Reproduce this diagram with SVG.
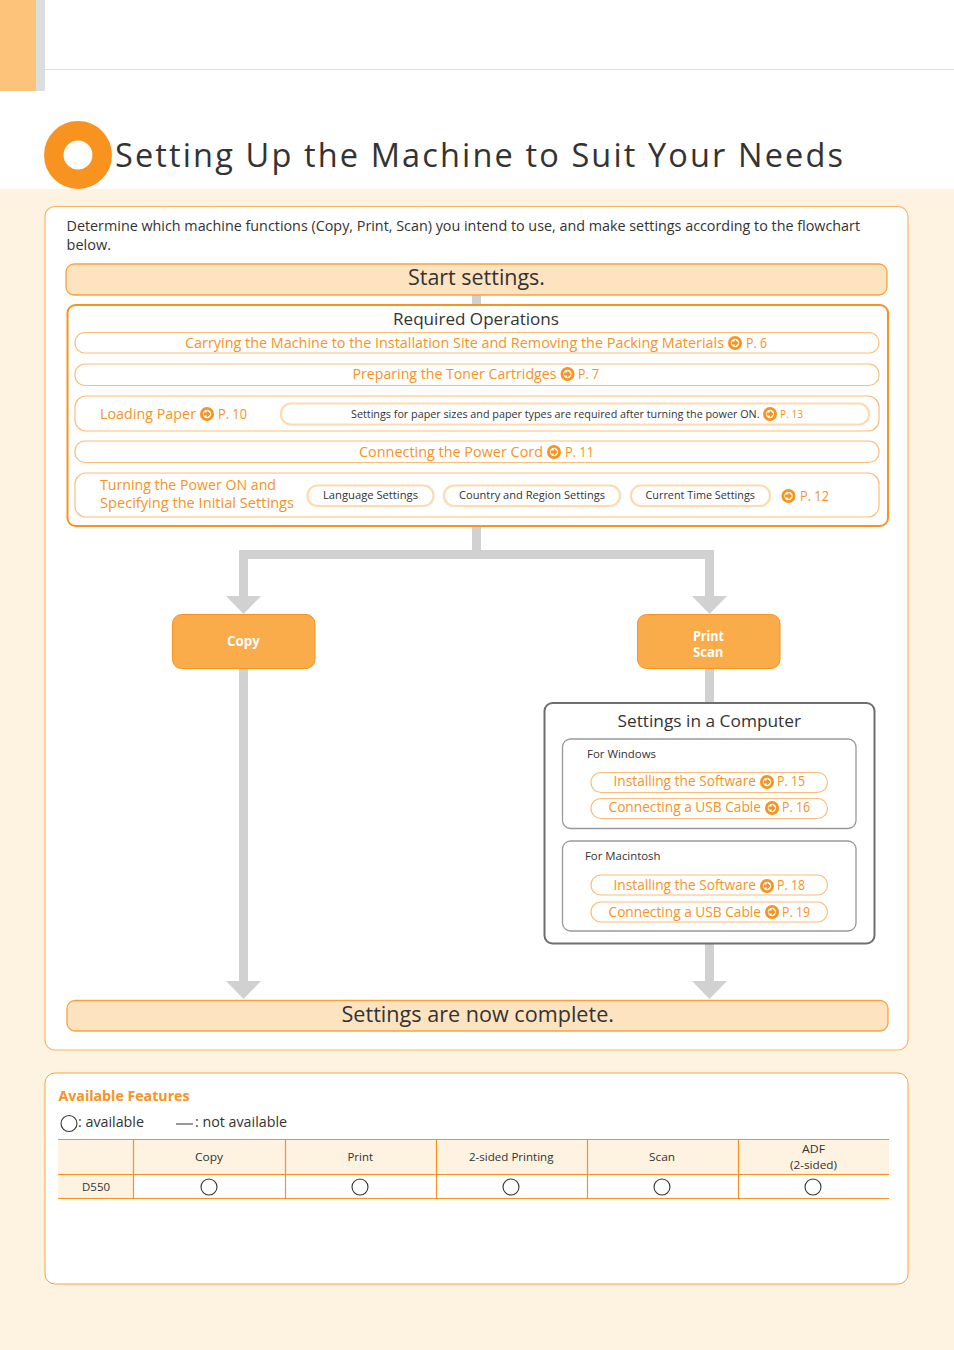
<svg xmlns="http://www.w3.org/2000/svg" width="954" height="1350" viewBox="0 0 954 1350">
<style>
text{font-family:"Open Sans","Noto Sans","Liberation Sans",sans-serif;fill:#333;}
.o{fill:#F7931E;}
.w{fill:#fff;font-weight:700;font-size:14px}
.s11{font-size:11px}
.s12{font-size:11.5px}
.s14{font-size:14px}
.s15{font-size:14.5px}
.s17{font-size:17px}
.s22{font-size:22px}
.bar{fill:#FDE3BF;stroke:#F9A23C;stroke-width:1.3}
.pill{fill:#fff;stroke:#FBBE7A;stroke-width:1.2}
.thick{fill:#fff;stroke:#FDDBAF;stroke-width:2.2}
.act{fill:#FAAB4A;stroke:#F7931E;stroke-width:1}
.tl{stroke:#F7931E;stroke-width:1.2;fill:none}
.ck{fill:none;stroke:#333;stroke-width:1.1}
.gb{fill:#fff;stroke:#999;stroke-width:1.3}
.pn{fill:#fff;stroke:#FBB568;stroke-width:1.2}
.conn{fill:#D1D1D1}
</style>
<defs>
<g id="ic"><circle r="5.6" fill="#fff" stroke="#F7931E" stroke-width="2.8"/><path d="M-3.4-1.4H-.2V-3.8L3.6 0L-.2 3.8V1.4H-3.4Z" fill="#F7931E"/></g>
</defs>
<rect width="954" height="1350" fill="#fff"/>
<g id="header">
<rect width="36" height="91" fill="#FDC37A"/>
<rect x="36" width="9" height="91" fill="#DCDDDD"/>
<rect x="45" y="69" width="909" height="1" fill="#DCDDDD"/>
<rect y="189" width="954" height="1161" fill="#FEF2E0"/>
<circle cx="78" cy="155" r="24.2" fill="#fff" stroke="#F7931E" stroke-width="19.5"/>
<text x="115" y="166.500" font-size="32.500" textLength="728" lengthAdjust="spacing">Setting Up the Machine to Suit Your Needs</text>
</g>
<rect id="panel-flow" class="pn" x="45" y="206.500" width="863" height="843.500" rx="10"/>
<text x="66.500" y="231" class="s15" textLength="793.500" lengthAdjust="spacingAndGlyphs">Determine which machine functions (Copy, Print, Scan) you intend to use, and make settings according to the flowchart</text>
<text x="66.500" y="250" class="s15" textLength="44.500" lengthAdjust="spacingAndGlyphs">below.</text>
<g id="connectors" class="conn">
<rect x="472" y="294" width="9" height="12"/>
<rect x="472" y="526" width="9" height="25"/>
<rect x="239" y="550" width="475" height="9"/>
<rect x="239" y="550" width="9" height="47"/>
<rect x="705" y="550" width="9" height="47"/>
<path d="M226 596H261L243.500 614Z"/>
<path d="M692 596H727L709.500 614Z"/>
<rect x="239" y="668" width="9" height="314"/>
<path d="M226 981H261L243.500 999Z"/>
<rect x="705" y="668" width="9" height="36"/>
<rect x="705" y="943" width="9" height="39"/>
<path d="M692 981H727L709.500 999Z"/>
</g>
<g id="start">
<rect class="bar" x="66" y="264" width="821" height="31" rx="8"/>
<text x="408" y="285" class="s22" textLength="137" lengthAdjust="spacingAndGlyphs">Start settings.</text>
</g>
<g id="required">
<rect x="67.500" y="305" width="820.500" height="221" rx="8" fill="#fff" stroke="#F7931E" stroke-width="2"/>
<text x="393" y="325" class="s17" textLength="166" lengthAdjust="spacingAndGlyphs">Required Operations</text>
</g>
<g id="req-carrying">
<rect class="pill" x="75" y="332.500" width="804" height="20.500" rx="10"/>
<text x="185" y="348" class="o s14" textLength="539" lengthAdjust="spacingAndGlyphs">Carrying the Machine to the Installation Site and Removing the Packing Materials</text>
<use href="#ic" x="735" y="343"/>
<text x="746" y="348" class="o s14" textLength="21" lengthAdjust="spacingAndGlyphs">P. 6</text>
</g>
<g id="req-toner">
<rect class="pill" x="75" y="364" width="804" height="21.500" rx="10"/>
<text x="352.500" y="379" class="o s14" textLength="204" lengthAdjust="spacingAndGlyphs">Preparing the Toner Cartridges</text>
<use href="#ic" x="567.500" y="374"/>
<text x="578" y="379" class="o s14" textLength="21" lengthAdjust="spacingAndGlyphs">P. 7</text>
</g>
<g id="req-paper">
<rect class="pill" x="75" y="396" width="804" height="35" rx="11"/>
<text x="100" y="419" class="o s14" textLength="96" lengthAdjust="spacingAndGlyphs">Loading Paper</text>
<use href="#ic" x="207" y="414"/>
<text x="218" y="419" class="o s14" textLength="29" lengthAdjust="spacingAndGlyphs">P. 10</text>
<rect class="thick" x="281" y="403.500" width="588" height="21" rx="10"/>
<text x="351" y="418" class="s11" textLength="408.500" lengthAdjust="spacingAndGlyphs">Settings for paper sizes and paper types are required after turning the power ON.</text>
<use href="#ic" x="770" y="414"/>
<text x="780" y="418" class="o s12" textLength="23" lengthAdjust="spacingAndGlyphs">P. 13</text>
</g>
<g id="req-power">
<rect class="pill" x="75" y="441" width="804" height="21.500" rx="10"/>
<text x="359" y="457" class="o s14" textLength="184" lengthAdjust="spacingAndGlyphs">Connecting the Power Cord</text>
<use href="#ic" x="554" y="452"/>
<text x="565" y="457" class="o s14" textLength="29" lengthAdjust="spacingAndGlyphs">P. 11</text>
</g>
<g id="req-initial">
<rect class="pill" x="75" y="473" width="804" height="44" rx="11"/>
<text x="100" y="490" class="o s14" textLength="176" lengthAdjust="spacingAndGlyphs">Turning the Power ON and</text>
<text x="100" y="508" class="o s14" textLength="194" lengthAdjust="spacingAndGlyphs">Specifying the Initial Settings</text>
<rect class="thick" x="307.500" y="485.500" width="126" height="20.500" rx="10"/>
<text x="323" y="499" class="s12" textLength="95" lengthAdjust="spacingAndGlyphs">Language Settings</text>
<rect class="thick" x="444" y="485.500" width="176" height="20.500" rx="10"/>
<text x="459" y="499" class="s12" textLength="146" lengthAdjust="spacingAndGlyphs">Country and Region Settings</text>
<rect class="thick" x="631" y="485.500" width="139" height="20.500" rx="10"/>
<text x="645.500" y="499" class="s12" textLength="109.500" lengthAdjust="spacingAndGlyphs">Current Time Settings</text>
<use href="#ic" x="788.500" y="496"/>
<text x="800" y="501" class="o s14" textLength="29" lengthAdjust="spacingAndGlyphs">P. 12</text>
</g>
<g id="copy">
<rect class="act" x="172.500" y="614.500" width="142.500" height="54" rx="9"/>
<text x="227" y="646" class="w" textLength="33" lengthAdjust="spacingAndGlyphs">Copy</text>
</g>
<g id="print-scan">
<rect class="act" x="637.500" y="614.500" width="142.500" height="54" rx="9"/>
<text x="693" y="641" class="w" textLength="31" lengthAdjust="spacingAndGlyphs">Print</text>
<text x="693" y="657" class="w" textLength="30.500" lengthAdjust="spacingAndGlyphs">Scan</text>
</g>
<g id="computer">
<rect x="544.500" y="703" width="330" height="240.500" rx="8" fill="#fff" stroke="#6D6E71" stroke-width="2"/>
<text x="617.500" y="727" class="s17" textLength="183.500" lengthAdjust="spacingAndGlyphs">Settings in a Computer</text>
</g>
<g id="windows">
<rect class="gb" x="562.500" y="739" width="293.500" height="89.500" rx="8"/>
<text x="587" y="758" class="s12" textLength="69" lengthAdjust="spacingAndGlyphs">For Windows</text>
<rect class="pill" x="591" y="772.500" width="236.500" height="20" rx="10"/>
<text x="613.500" y="786" class="o s14" textLength="142.500" lengthAdjust="spacingAndGlyphs">Installing the Software</text>
<use href="#ic" x="767" y="782"/>
<text x="777" y="786" class="o s14" textLength="28" lengthAdjust="spacingAndGlyphs">P. 15</text>
<rect class="pill" x="591" y="798.500" width="236.500" height="20" rx="10"/>
<text x="608.500" y="812" class="o s14" textLength="152.500" lengthAdjust="spacingAndGlyphs">Connecting a USB Cable</text>
<use href="#ic" x="772" y="808"/>
<text x="782" y="812" class="o s14" textLength="28" lengthAdjust="spacingAndGlyphs">P. 16</text>
</g>
<g id="macintosh">
<rect class="gb" x="562.500" y="841" width="293.500" height="90" rx="8"/>
<text x="585" y="860" class="s12" textLength="75.500" lengthAdjust="spacingAndGlyphs">For Macintosh</text>
<rect class="pill" x="591" y="875" width="236.500" height="20" rx="10"/>
<text x="613.500" y="890" class="o s14" textLength="142.500" lengthAdjust="spacingAndGlyphs">Installing the Software</text>
<use href="#ic" x="767" y="886"/>
<text x="777" y="890" class="o s14" textLength="28" lengthAdjust="spacingAndGlyphs">P. 18</text>
<rect class="pill" x="591" y="902" width="236.500" height="20" rx="10"/>
<text x="608.500" y="917" class="o s14" textLength="152.500" lengthAdjust="spacingAndGlyphs">Connecting a USB Cable</text>
<use href="#ic" x="772" y="912"/>
<text x="782" y="917" class="o s14" textLength="28" lengthAdjust="spacingAndGlyphs">P. 19</text>
</g>
<g id="complete">
<rect class="bar" x="67" y="1000.500" width="821" height="30.500" rx="8"/>
<text x="341.500" y="1022" class="s22" textLength="272.500" lengthAdjust="spacingAndGlyphs">Settings are now complete.</text>
</g>
<g id="features">
<rect class="pn" x="45" y="1073" width="863" height="211" rx="10" style="stroke:#F9A23C;stroke-width:1"/>
<text x="58.500" y="1101" class="o s14" font-weight="700" textLength="131" lengthAdjust="spacingAndGlyphs">Available Features</text>
<circle class="ck" cx="69" cy="1123.500" r="8"/>
<text x="78" y="1127" class="s15" textLength="66" lengthAdjust="spacingAndGlyphs">: available</text>
<rect x="176" y="1123.500" width="17" height="1" fill="#333"/>
<text x="195" y="1127" class="s15" textLength="92" lengthAdjust="spacingAndGlyphs">: not available</text>
<rect x="58" y="1139.500" width="831" height="35" fill="#FEF2E0"/>
<rect x="58" y="1174.500" width="75.500" height="24" fill="#FEF2E0"/>
<path class="tl" d="M58 1139.500H889M58 1174.500H889M58 1198.500H889M133.500 1139.500V1198.500M285.500 1139.500V1198.500M436.500 1139.500V1198.500M587.500 1139.500V1198.500M738.500 1139.500V1198.500"/>
<text x="195" y="1161" class="s12" textLength="28" lengthAdjust="spacingAndGlyphs">Copy</text>
<text x="347.500" y="1161" class="s12" textLength="25.500" lengthAdjust="spacingAndGlyphs">Print</text>
<text x="469" y="1161" class="s12" textLength="84.500" lengthAdjust="spacingAndGlyphs">2-sided Printing</text>
<text x="649" y="1161" class="s12" textLength="26" lengthAdjust="spacingAndGlyphs">Scan</text>
<text x="802" y="1153" class="s12" textLength="23" lengthAdjust="spacingAndGlyphs">ADF</text>
<text x="790" y="1169" class="s12" textLength="47" lengthAdjust="spacingAndGlyphs">(2-sided)</text>
<text x="82" y="1191" class="s12" textLength="28" lengthAdjust="spacingAndGlyphs">D550</text>
<circle class="ck" cx="209" cy="1187" r="8"/>
<circle class="ck" cx="360" cy="1187" r="8"/>
<circle class="ck" cx="511" cy="1187" r="8"/>
<circle class="ck" cx="662" cy="1187" r="8"/>
<circle class="ck" cx="813" cy="1187" r="8"/>
</g>
</svg>
